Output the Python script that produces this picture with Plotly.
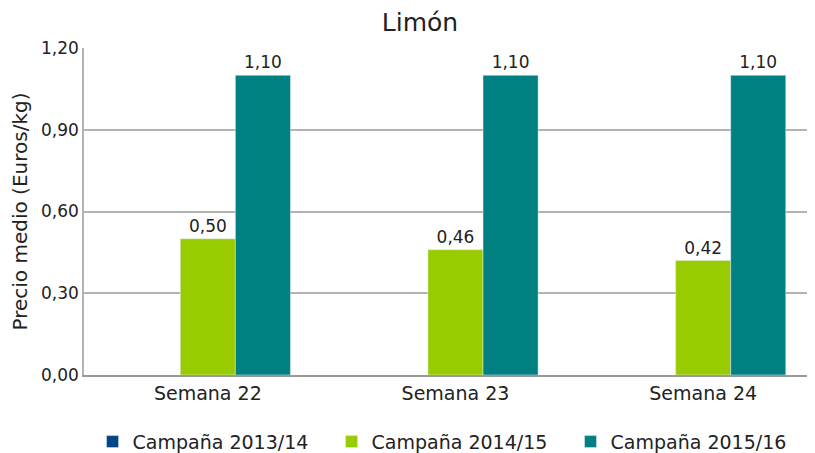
import plotly.graph_objects as go

categories = ["Semana 22", "Semana 23", "Semana 24"]
series_names = ["Campaña 2013/14", "Campaña 2014/15", "Campaña 2015/16"]
v_2013 = [None, None, None]
v_2014 = [0.50, 0.46, 0.42]
v_2015 = [1.10, 1.10, 1.10]
colors = ["#004586", "#99cc00", "#008080"]
y_ticks = [0.0, 0.30, 0.60, 0.90, 1.20]

font_family = "'DejaVu Sans', sans-serif"

fig = go.Figure()
for name, vals, col in zip(series_names, [v_2013, v_2014, v_2015], colors):
    fig.add_trace(go.Bar(
        x=categories, y=vals, name=name, marker_color=col,
        text=[("" if v is None else f"{v:.2f}".replace(".", ",")) for v in vals],
        textposition="outside", cliponaxis=False,
        textfont=dict(size=17, color="#222222", family=font_family),
    ))

# the page body adds an 8px offset at top/left; margins compensate for it.
# The plot area runs slightly past the right edge, as in the reference.
fig.update_layout(
    width=819, height=453,
    margin=dict(l=76, r=0, t=40, b=84),
    paper_bgcolor="white", plot_bgcolor="white",
    barmode="group", bargap=0.333, bargroupgap=0,
    separators=",.",
    font=dict(family=font_family, size=17, color="#222222"),
    title=dict(text="Limón", x=0.503, xanchor="center", y=0.969, yanchor="middle",
               font=dict(size=25, color="#222222", family=font_family)),
    legend=dict(orientation="h", x=0.494, xanchor="center", y=-0.146, yanchor="top",
                font=dict(size=19), itemwidth=30, traceorder="normal",
                entrywidth=194, entrywidthmode="pixels"),
    showlegend=True,
)
fig.update_xaxes(showline=True, linecolor="#999999", linewidth=1.5, ticks="",
                 tickfont=dict(size=19))
fig.update_yaxes(range=[0, 1.2], tickvals=y_ticks, tickformat=".2f",
                 showgrid=True, gridcolor="#b3b3b3", gridwidth=1.5,
                 showline=True, linecolor="#b3b3b3", linewidth=1.5,
                 zeroline=False, ticks="", tickfont=dict(size=17),
                 title=dict(text="Precio medio (Euros/kg)", font=dict(size=20), standoff=8))

fig.write_html("out.html")
